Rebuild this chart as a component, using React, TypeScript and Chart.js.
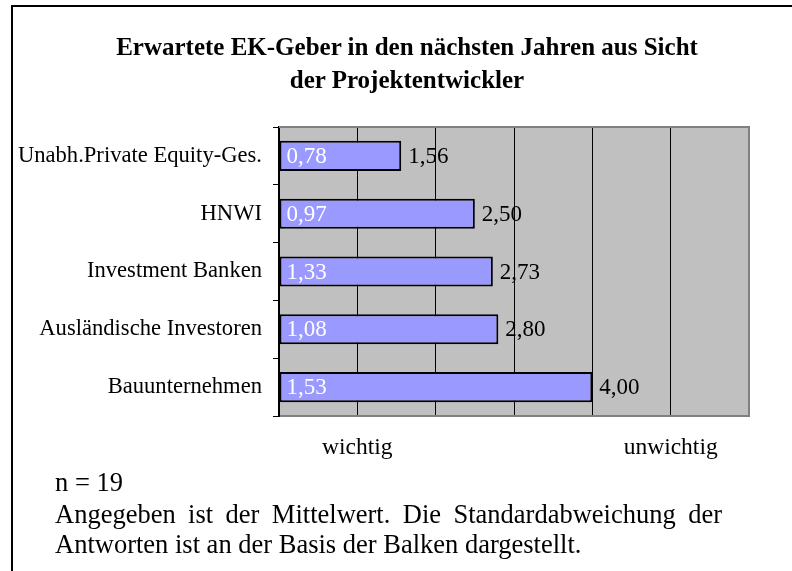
import React, { useEffect, useRef } from 'react';
import { Chart, registerables } from 'chart.js';

Chart.register(...registerables);

const categories = [
  'Unabh.Private Equity-Ges.',
  'HNWI',
  'Investment Banken',
  'Ausländische Investoren',
  'Bauunternehmen',
];
const meanValues = [1.56, 2.5, 2.73, 2.8, 4.0];
const stdDevValues = [0.78, 0.97, 1.33, 1.08, 1.53];
const xTickLabels: Record<number, string> = { 1: 'wichtig', 5: 'unwichtig' };
const xMin = 0;
const xMax = 6;
const titleLines = ['Erwartete EK-Geber in den nächsten Jahren aus Sicht', 'der Projektentwickler'];
const sampleNote = 'n = 19';
const footnote =
  'Angegeben ist der Mittelwert. Die Standardabweichung der Antworten ist an der Basis der Balken dargestellt.';

const FONT = "'Liberation Serif', 'Times New Roman', Times, serif";
const fmt = (v: number) => v.toFixed(2).replace('.', ',');

const plotBackground = {
  id: 'plotBackground',
  beforeDraw(chart: any) {
    const { ctx, chartArea } = chart;
    const { left, top, right, bottom } = chartArea;
    ctx.save();
    ctx.fillStyle = '#C0C0C0';
    ctx.fillRect(left, top, right - left, bottom - top);
    ctx.restore();
  },
  beforeDatasetsDraw(chart: any) {
    const { ctx, chartArea } = chart;
    const { left, top, right, bottom } = chartArea;
    ctx.save();
    ctx.strokeStyle = '#808080';
    ctx.lineWidth = 2;
    ctx.beginPath();
    ctx.moveTo(left, top);
    ctx.lineTo(right, top);
    ctx.lineTo(right, bottom);
    ctx.stroke();
    ctx.restore();
  },
};

const barLabels = {
  id: 'barLabels',
  afterDatasetsDraw(chart: any) {
    const { ctx } = chart;
    const meta = chart.getDatasetMeta(0);
    ctx.save();
    ctx.font = `23px ${FONT}`;
    ctx.textBaseline = 'middle';
    meta.data.forEach((bar: any, i: number) => {
      const { x, y, base } = bar.getProps(['x', 'y', 'base'], true);
      ctx.textAlign = 'left';
      ctx.fillStyle = '#FFFFFF';
      ctx.fillText(fmt(stdDevValues[i]), base + 7, y + 1);
      ctx.fillStyle = '#000000';
      ctx.fillText(fmt(meanValues[i]), x + 7, y + 1);
    });
    ctx.restore();
  },
};

export default function App() {
  const canvasRef = useRef<HTMLCanvasElement | null>(null);

  useEffect(() => {
    if (!canvasRef.current) return;
    const chart = new Chart(canvasRef.current, {
      type: 'bar',
      data: {
        labels: categories,
        datasets: [
          {
            data: meanValues,
            backgroundColor: '#9999FF',
            borderColor: '#000000',
            borderWidth: 2,
            borderSkipped: false,
            barPercentage: 0.52,
            categoryPercentage: 1,
          },
        ],
      },
      options: {
        indexAxis: 'y',
        responsive: false,
        animation: false,
        devicePixelRatio: 1,
        layout: { padding: { left: 0, right: 43, top: 127, bottom: 0 } },
        plugins: {
          legend: { display: false },
          title: { display: false },
          tooltip: { enabled: false },
        },
        scales: {
          x: {
            type: 'linear',
            min: xMin,
            max: xMax,
            afterFit: (axis: any) => {
              axis.height = 155;
            },
            ticks: {
              stepSize: 1,
              autoSkip: false,
              maxRotation: 0,
              padding: 18,
              color: '#000000',
              font: { family: FONT, size: 23.5 },
              callback: (v: any) => xTickLabels[Number(v)] ?? '',
            },
            grid: {
              drawTicks: false,
              color: (ctx: any) =>
                ctx.tick && (ctx.tick.value === xMin || ctx.tick.value === xMax)
                  ? 'rgba(0,0,0,0)'
                  : '#000000',
              lineWidth: 1,
            },
            border: { display: true, color: '#808080', width: 2 },
          },
          y: {
            afterFit: (axis: any) => {
              axis.width = 279;
            },
            ticks: {
              padding: 11,
              color: '#000000',
              font: { family: FONT, size: 22.6 },
            },
            grid: {
              drawOnChartArea: false,
              drawTicks: true,
              tickLength: 6,
              color: '#000000',
              lineWidth: 1,
            },
            border: { display: true, color: '#000000', width: 2 },
          },
        },
      },
      plugins: [plotBackground, barLabels],
    });
    return () => chart.destroy();
  }, []);

  return (
    <div
      style={{
        position: 'absolute',
        left: 0,
        top: 0,
        width: 792,
        height: 571,
        overflow: 'hidden',
        background: '#FFFFFF',
        fontFamily: FONT,
        color: '#000000',
      }}
    >
      <div
        style={{
          position: 'absolute',
          left: 11,
          top: 5,
          width: 800,
          height: 600,
          borderLeft: '2px solid #000',
          borderTop: '2px solid #000',
          boxSizing: 'border-box',
        }}
      />
      <canvas
        ref={canvasRef}
        width={792}
        height={571}
        style={{ position: 'absolute', left: 0, top: 0, width: 792, height: 571 }}
      />
      <div
        style={{
          position: 'absolute',
          left: 107,
          top: 30,
          width: 600,
          textAlign: 'center',
          fontWeight: 'bold',
          fontSize: 25,
          lineHeight: '33px',
          whiteSpace: 'nowrap',
        }}
      >
        {titleLines[0]}
        <br />
        {titleLines[1]}
      </div>
      <div
        style={{
          position: 'absolute',
          left: 55,
          top: 467,
          fontSize: 26.5,
          lineHeight: '30px',
          whiteSpace: 'nowrap',
        }}
      >
        {sampleNote}
      </div>
      <div
        style={{
          position: 'absolute',
          left: 55,
          top: 499,
          width: 667,
          fontSize: 26.5,
          lineHeight: '30px',
          textAlign: 'justify',
        }}
      >
        {footnote}
      </div>
    </div>
  );
}
